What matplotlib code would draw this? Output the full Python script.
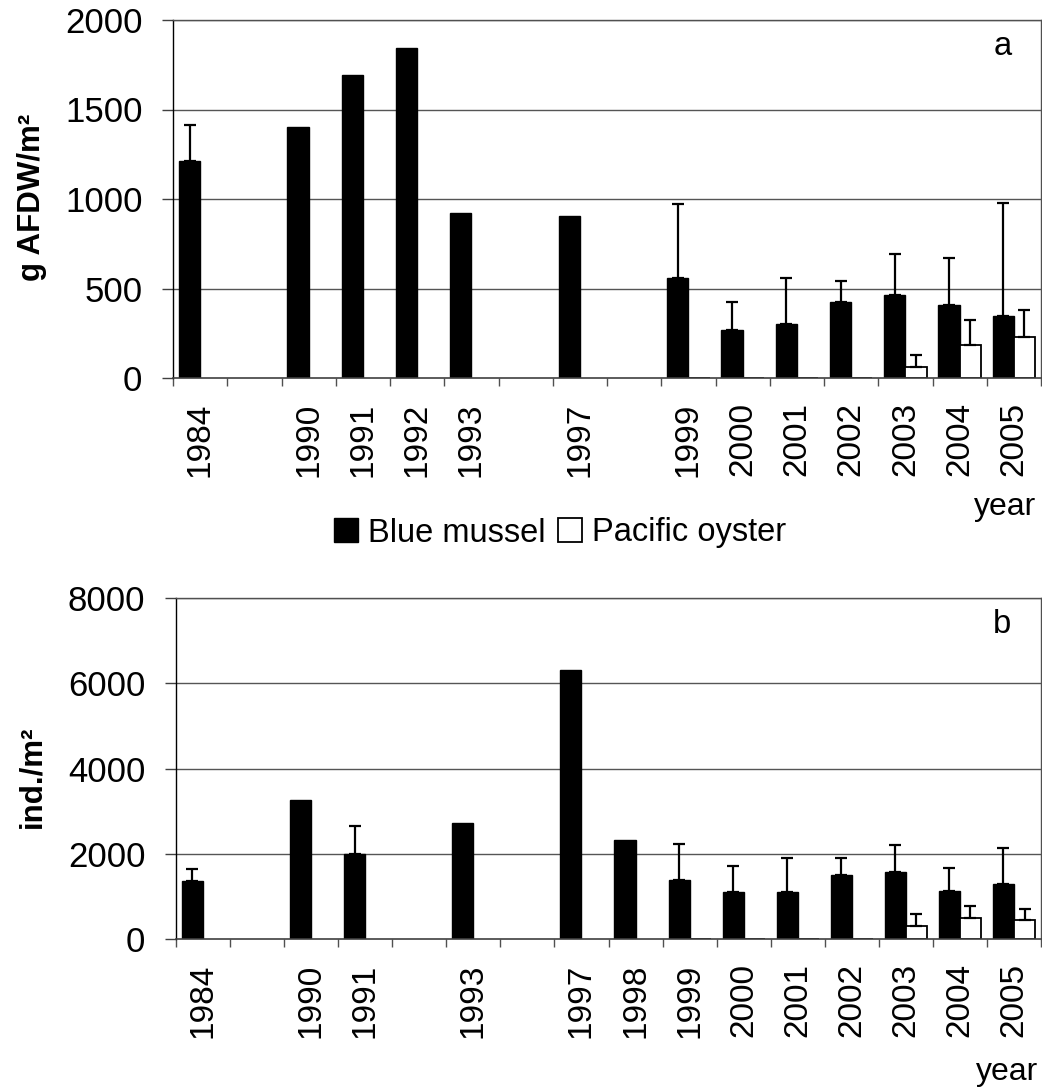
import numpy as np
import matplotlib
matplotlib.use("Agg")
import matplotlib.pyplot as plt
from matplotlib.patches import Patch

nan = np.nan

# ---- data: panel a (biomass) ----
years_a = ['1984', '', '1990', '1991', '1992', '1993', '', '1997', '',
           '1999', '2000', '2001', '2002', '2003', '2004', '2005']
mussel_a = [1215, nan, 1405, 1694, 1842, 919, nan, 906, nan,
            556, 267, 304, 427, 462, 410, 345]
mussel_a_sd = [198, nan, nan, nan, nan, nan, nan, nan, nan,
               414, 158, 252, 115, 233, 259, 633]
oyster_a = [nan, nan, nan, nan, nan, nan, nan, nan, nan,
            0, 0, 0, 0, 64, 183, 228]
oyster_a_sd = [nan, nan, nan, nan, nan, nan, nan, nan, nan,
               nan, nan, nan, nan, 63, 140, 154]

# ---- data: panel b (density) ----
years_b = ['1984', '', '1990', '1991', '', '1993', '', '1997', '1998',
           '1999', '2000', '2001', '2002', '2003', '2004', '2005']
mussel_b = [1360, nan, 3258, 2000, nan, 2727, nan, 6321, 2313,
            1383, 1094, 1094, 1508, 1578, 1133, 1281]
mussel_b_sd = [281, nan, nan, 641, nan, nan, nan, nan, nan,
               844, 625, 812, 398, 617, 539, 852]
oyster_b = [nan, nan, nan, nan, nan, nan, nan, nan, nan,
            0, 0, 0, 0, 305, 492, 445]
oyster_b_sd = [nan, nan, nan, nan, nan, nan, nan, nan, nan,
               nan, nan, nan, nan, 289, 281, 266]

W, H = 1042, 1092
fig = plt.figure(figsize=(W / 100, H / 100), dpi=100)

FONT = 'Liberation Sans'
plt.rcParams['font.family'] = [FONT, 'DejaVu Sans']


def px_axes(l, t, r, b):
    return fig.add_axes([l / W, 1 - b / H, (r - l) / W, (b - t) / H])


def draw_panel(ax, cats, mus, mus_sd, oys, oys_sd, ymax, ystep):
    n = len(cats)
    x = np.arange(n)
    bw = 0.39
    mus = np.array(mus, float)
    oys = np.array(oys, float)
    mus_sd = np.array(mus_sd, float)
    oys_sd = np.array(oys_sd, float)

    for yv in np.arange(ystep, ymax + 1, ystep):
        ax.axhline(yv, color='#555555', lw=1.0, zorder=0)

    m = ~np.isnan(mus)
    ax.bar(x[m] - bw / 2, mus[m], width=bw, color='black', edgecolor='black',
           lw=1.0, zorder=2)
    o = ~np.isnan(oys)
    ax.bar(x[o] + bw / 2, oys[o], width=bw, color='white', edgecolor='black',
           lw=1.3, zorder=2)

    me = ~np.isnan(mus_sd)
    ax.errorbar(x[me] - bw / 2, mus[me], yerr=[np.zeros(me.sum()), mus_sd[me]],
                fmt='none', ecolor='black', elinewidth=1.6, capsize=4,
                capthick=1.6, zorder=3)
    oe = ~np.isnan(oys_sd)
    ax.errorbar(x[oe] + bw / 2, oys[oe], yerr=[np.zeros(oe.sum()), oys_sd[oe]],
                fmt='none', ecolor='black', elinewidth=1.6, capsize=4,
                capthick=1.6, zorder=3)

    ax.set_xlim(-0.5, n - 0.5)
    ax.set_ylim(0, ymax)
    ax.set_yticks(np.arange(0, ymax + 1, ystep))
    ax.tick_params(axis='y', direction='out', length=8, width=1.0,
                   color='#404040', labelsize=25, pad=14)

    ax.set_xticks(np.arange(-0.5, n, 1.0))
    ax.set_xticklabels([])
    ax.tick_params(axis='x', which='major', direction='out', length=6,
                   width=1.0, color='#505050')
    ax.set_xticks(x, minor=True)
    ax.set_xticklabels(cats, minor=True, rotation=90, fontsize=24)
    ax.tick_params(axis='x', which='minor', length=0, pad=17.5)

    for s in ['top', 'right']:
        ax.spines[s].set_color('#505050')
        ax.spines[s].set_linewidth(1.0)
    ax.spines['left'].set_color('black')
    ax.spines['left'].set_linewidth(1.0)
    ax.spines['bottom'].set_color('#404040')
    ax.spines['bottom'].set_linewidth(1.2)


ax_a = px_axes(173, 20, 1041, 378)
draw_panel(ax_a, years_a, mussel_a, mussel_a_sd, oyster_a, oyster_a_sd,
           2000, 500)
ax_b = px_axes(176, 598, 1041, 939)
draw_panel(ax_b, years_b, mussel_b, mussel_b_sd, oyster_b, oyster_b_sd,
           8000, 2000)

fig.text(1003 / W, 1 - 55 / H, 'a', ha='center', va='baseline', fontsize=23.5)
fig.text(1002 / W, 1 - 633 / H, 'b', ha='center', va='baseline', fontsize=23.5)

fig.text(32 / W, 1 - 197 / H, 'g AFDW/m²', rotation=90, ha='center',
         va='center', fontsize=22.5, fontweight='bold')
fig.text(32 / W, 1 - 777 / H, 'ind./m²', rotation=90, ha='center',
         va='center', fontsize=22.5, fontweight='bold')

fig.text(1005 / W, 1 - 515 / H, 'year', ha='center', va='baseline',
         fontsize=23)
fig.text(1007 / W, 1 - 1080 / H, 'year', ha='center', va='baseline',
         fontsize=23)

handles = [Patch(facecolor='black', edgecolor='black', lw=1.0),
           Patch(facecolor='white', edgecolor='black', lw=1.3)]
fig.legend(handles, ['Blue mussel', 'Pacific oyster'], loc='center',
           bbox_to_anchor=(560 / W, 1 - 533 / H), ncol=2, frameon=False,
           prop={'family': FONT, 'size': 23.5}, handlelength=0.73,
           handleheight=0.73, handletextpad=0.3, columnspacing=0.4,
           borderpad=0)

fig.savefig('out.png', dpi=100)
